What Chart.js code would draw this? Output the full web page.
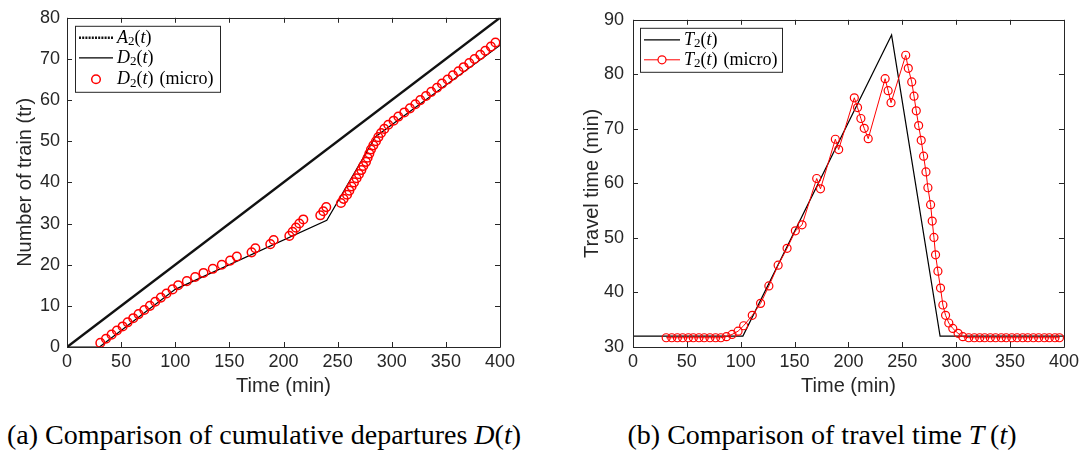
<!DOCTYPE html>
<html><head><meta charset="utf-8">
<script src="https://cdn.jsdelivr.net/npm/chart.js@4.4.1/dist/chart.umd.min.js"></script>
<style>
html,body{margin:0;padding:0;background:#fff;}
body{width:1083px;height:454px;position:relative;overflow:hidden;}
#w1{position:absolute;left:0;top:0;width:543px;height:400px;}
#w2{position:absolute;left:543px;top:0;width:540px;height:400px;}
.cap{position:absolute;top:419px;font-family:"Liberation Serif",serif;font-size:28px;line-height:32px;color:#000;white-space:nowrap;text-align:center;}
#c1{left:0px;width:528px;} #c2{left:560px;width:524px;}
</style></head><body>
<div id="w1"><canvas id="cv1" width="543" height="400"></canvas></div>
<div id="w2"><canvas id="cv2" width="540" height="400"></canvas></div>
<div class="cap" id="c1">(a) Comparison of cumulative departures <i>D</i>(<i>t</i>)</div>
<div class="cap" id="c2">(b) Comparison of travel time <i>T</i>&#8201;(<i>t</i>)</div>
<script>
// ---- tick labels ----
const xTicks = [0, 50, 100, 150, 200, 250, 300, 350, 400];
const leftYTicks = [0, 10, 20, 30, 40, 50, 60, 70, 80];
const rightYTicks = [30, 40, 50, 60, 70, 80, 90];

// ---- macroscopic curves ----
const a2Time = [0, 400];
const a2Count = [0, 80];
const d2Time = [0, 30, 100, 240, 285, 400];
const d2Count = [0, 0, 14, 30.8, 51.1, 73.3];
const t2Time = [0, 102, 240, 285, 400];
const t2Travel = [32, 32, 87.2, 32, 32];

// ---- microscopic results (departure times, count, travel time) ----
const microTime = [30.8, 36, 41.2, 46.1, 51.4, 56, 61.2, 66.1, 71.4, 76.6, 81.5, 86.7, 91.9, 97.5, 102.7,
  110.7, 118.4, 126.1, 134.7, 143, 150.7, 156.9, 170.5, 174, 187.8, 190.9, 205.4, 208.4, 211.5, 214.6,
  218.3, 234, 236.8, 239.5, 253.1, 255.5, 258.7, 260.8, 262.9, 265.1, 267.5, 269.7, 271.9, 273.7, 276.2,
  277.7, 279.3, 280.8, 283, 285.4, 287.6, 290.1, 293.1, 296.8, 301.7, 306.1, 311.6, 316.8, 321.8, 326.4,
  331.6, 336.5, 341.8, 346.4, 351.6, 356.5, 361.7, 366.4, 371.6, 376.5, 381.8, 386.4, 391.6, 395.8];
const microCount = [1, 2, 3, 4, 5, 6, 7, 8, 9, 10, 11, 12, 13, 14, 15, 16, 17, 18, 19, 20, 21, 22, 23, 24,
  25, 26, 27, 28, 29, 30, 31, 32, 33, 34, 35, 36, 37, 38, 39, 40, 41, 42, 43, 44, 45, 46, 47, 48, 49, 50,
  51, 52, 53, 54, 55, 56, 57, 58, 59, 60, 61, 62, 63, 64, 65, 66, 67, 68, 69, 70, 71, 72, 73, 74];
const microTravel = [31.7, 31.7, 31.7, 31.7, 31.7, 31.7, 31.7, 31.7, 31.7, 31.7, 31.7, 31.9, 32.3, 32.9,
  33.9, 35.8, 38.0, 41.2, 45.0, 48.1, 51.3, 52.4, 60.9, 59.0, 68.1, 66.2, 75.7, 73.9, 71.9, 70.1, 68.2,
  79.2, 77.0, 74.8, 83.5, 81.1, 78.6, 76.0, 73.3, 70.6, 67.9, 65.0, 62.1, 59.2, 56.1, 53.1, 50.1, 46.9,
  43.9, 40.8, 37.7, 35.8, 34.4, 33.4, 32.5, 31.9, 31.7, 31.7, 31.7, 31.7, 31.7, 31.7, 31.7, 31.7, 31.7,
  31.7, 31.7, 31.7, 31.7, 31.7, 31.7, 31.7, 31.7, 31.7];

const pts = (xs, ys) => xs.map((x, i) => ({x, y: ys[i]}));

const AX = '#262626';
const SANS = '"Liberation Sans", Arial, sans-serif';
const SERIF = '"Liberation Serif", "Times New Roman", serif';

// rich text drawing for LaTeX-like legend labels
function drawRich(ctx, parts, x, y) {
  for (const p of parts) {
    const size = p.sub ? 13 : 18;
    ctx.font = (p.it ? 'italic ' : '') + size + 'px ' + SERIF;
    ctx.fillText(p.t, x, y + (p.sub ? 4 : 0));
    x += ctx.measureText(p.t).width + (p.gap || 0);
  }
}

const boxPlugin = {
  id: 'matBox',
  afterDatasetsDraw(chart) {
    const {ctx, chartArea: a, scales} = chart;
    ctx.save();
    ctx.strokeStyle = AX;
    ctx.lineWidth = 1;
    const L = 5;
    ctx.beginPath();
    ctx.rect(Math.round(a.left) + 0.5, Math.round(a.top) + 0.5, Math.round(a.right - a.left), Math.round(a.bottom - a.top));
    scales.x.ticks.forEach(t => {
      const x = Math.round(scales.x.getPixelForValue(t.value)) + 0.5;
      ctx.moveTo(x, a.bottom); ctx.lineTo(x, a.bottom - L);
      ctx.moveTo(x, a.top); ctx.lineTo(x, a.top + L);
    });
    scales.y.ticks.forEach(t => {
      const y = Math.round(scales.y.getPixelForValue(t.value)) + 0.5;
      ctx.moveTo(a.left, y); ctx.lineTo(a.left + L, y);
      ctx.moveTo(a.right, y); ctx.lineTo(a.right - L, y);
    });
    ctx.stroke();
    ctx.restore();
  }
};

const legendPlugin = {
  id: 'matLegend',
  afterDraw(chart) {
    const o = chart.options.plugins.matLegend;
    if (!o) return;
    const {ctx, chartArea: a} = chart;
    const bx = a.left + o.dx, by = a.top + o.dy;
    ctx.save();
    ctx.fillStyle = '#fff';
    ctx.fillRect(bx, by, o.w, o.h);
    ctx.strokeStyle = AX; ctx.lineWidth = 1;
    ctx.strokeRect(bx + 0.5, by + 0.5, o.w, o.h);
    o.items.forEach((it, i) => {
      const ds = chart.data.datasets[it.ds];
      const y = by + o.rowY[i];
      const x0 = bx + 4, x1 = bx + o.sample;
      if (it.line) {
        ctx.save();
        ctx.strokeStyle = ds.borderColor;
        ctx.lineWidth = ds.borderWidth;
        ctx.setLineDash(it.dash || []);
        ctx.beginPath(); ctx.moveTo(x0, y); ctx.lineTo(x1, y); ctx.stroke();
        ctx.restore();
      }
      if (it.marker) {
        ctx.save();
        ctx.strokeStyle = ds.pointBorderColor;
        ctx.lineWidth = ds.pointBorderWidth;
        ctx.fillStyle = '#fff';
        ctx.beginPath(); ctx.arc((x0 + x1) / 2, y, ds.pointRadius, 0, Math.PI * 2); ctx.fill(); ctx.stroke();
        ctx.restore();
      }
      ctx.fillStyle = '#000';
      ctx.textBaseline = 'middle';
      drawRich(ctx, it.parts, x1 + 4, y);
    });
    ctx.restore();
  }
};

function xScale() {
  return {
    type: 'linear', min: 0, max: 400,
    afterBuildTicks: s => { s.ticks = xTicks.map(v => ({value: v})); },
    afterFit: s => { s.height = 53; },
    grid: {display: false, drawTicks: false},
    border: {display: false},
    ticks: {color: AX, font: {family: SANS, size: 18}, padding: 4, maxRotation: 0, autoSkip: false},
    title: {display: true, text: 'Time (min)', color: AX, font: {family: SANS, size: 20}, padding: {top: 0, bottom: 2}}
  };
}
function yScale(min, max, ticks, title, width, tpad, lpad) {
  return {
    type: 'linear', min, max,
    afterBuildTicks: s => { s.ticks = ticks.map(v => ({value: v})); },
    afterFit: s => { s.width = width; },
    grid: {display: false, drawTicks: false},
    border: {display: false},
    ticks: {color: AX, font: {family: SANS, size: 18}, padding: lpad, autoSkip: false},
    title: {display: true, text: title, color: AX, font: {family: SANS, size: 20}, padding: {top: tpad, bottom: 0}}
  };
}

const common = {
  responsive: false, animation: false, devicePixelRatio: 1,
  events: []
};

new Chart(document.getElementById('cv1'), {
  type: 'scatter',
  data: {
    datasets: [
      {label: 'D2(t) (micro)', data: pts(microTime, microCount), showLine: false, order: 0,
       pointStyle: 'circle', pointRadius: 4.3, pointBorderWidth: 1.5, pointBorderColor: '#ff0000',
       pointBackgroundColor: 'rgba(0,0,0,0)', borderColor: '#ff0000', clip: false},
      {label: 'D2(t)', data: pts(d2Time, d2Count), showLine: true, order: 1, pointRadius: 0,
       borderColor: '#000', borderWidth: 1.2},
      {label: 'A2(t)', data: pts(a2Time, a2Count), showLine: true, order: 2, pointRadius: 0,
       borderColor: '#111', borderWidth: 2.5}
    ]
  },
  options: Object.assign({}, common, {
    layout: {padding: {left: 0, top: 15, right: 43, bottom: 0}},
    scales: {x: xScale(), y: yScale(0, 80, leftYTicks, 'Number of train (tr)', 67, 13, 7)},
    plugins: {
      legend: {display: false}, tooltip: {enabled: false},
      matLegend: {dx: 8, dy: 8, w: 145, h: 66, sample: 38, rowY: [12, 32, 53.5], items: [
        {ds: 2, line: true, dash: [2, 1.2], parts: [{t: 'A', it: true}, {t: '2', sub: true}, {t: '('}, {t: 't', it: true}, {t: ')'}]},
        {ds: 1, line: true, parts: [{t: 'D', it: true}, {t: '2', sub: true}, {t: '('}, {t: 't', it: true}, {t: ')'}]},
        {ds: 0, marker: true, parts: [{t: 'D', it: true}, {t: '2', sub: true}, {t: '('}, {t: 't', it: true}, {t: ')', gap: 6}, {t: '(micro)'}]}
      ]}
    }
  }),
  plugins: [boxPlugin, legendPlugin]
});

new Chart(document.getElementById('cv2'), {
  type: 'scatter',
  data: {
    datasets: [
      {label: 'T2(t) (micro)', data: pts(microTime, microTravel), showLine: true, order: 0,
       borderColor: '#ff0000', borderWidth: 1,
       pointStyle: 'circle', pointRadius: 4, pointBorderWidth: 1.2, pointBorderColor: '#ff0000',
       pointBackgroundColor: 'rgba(0,0,0,0)', clip: false},
      {label: 'T2(t)', data: pts(t2Time, t2Travel), showLine: true, order: 1, pointRadius: 0,
       borderColor: '#000', borderWidth: 1.2}
    ]
  },
  options: Object.assign({}, common, {
    layout: {padding: {left: 0, top: 15, right: 17, bottom: 0}},
    scales: {x: xScale(), y: yScale(30, 90, rightYTicks, 'Travel time (min)', 90, 37, 9)},
    plugins: {
      legend: {display: false}, tooltip: {enabled: false},
      matLegend: {dx: 7, dy: 8, w: 142, h: 44, sample: 40, rowY: [12, 32], items: [
        {ds: 1, line: true, parts: [{t: 'T', it: true}, {t: '2', sub: true}, {t: '('}, {t: 't', it: true}, {t: ')'}]},
        {ds: 0, line: true, marker: true, parts: [{t: 'T', it: true}, {t: '2', sub: true}, {t: '('}, {t: 't', it: true}, {t: ')', gap: 6}, {t: '(micro)'}]}
      ]}
    }
  }),
  plugins: [boxPlugin, legendPlugin]
});
</script>
</body></html>
